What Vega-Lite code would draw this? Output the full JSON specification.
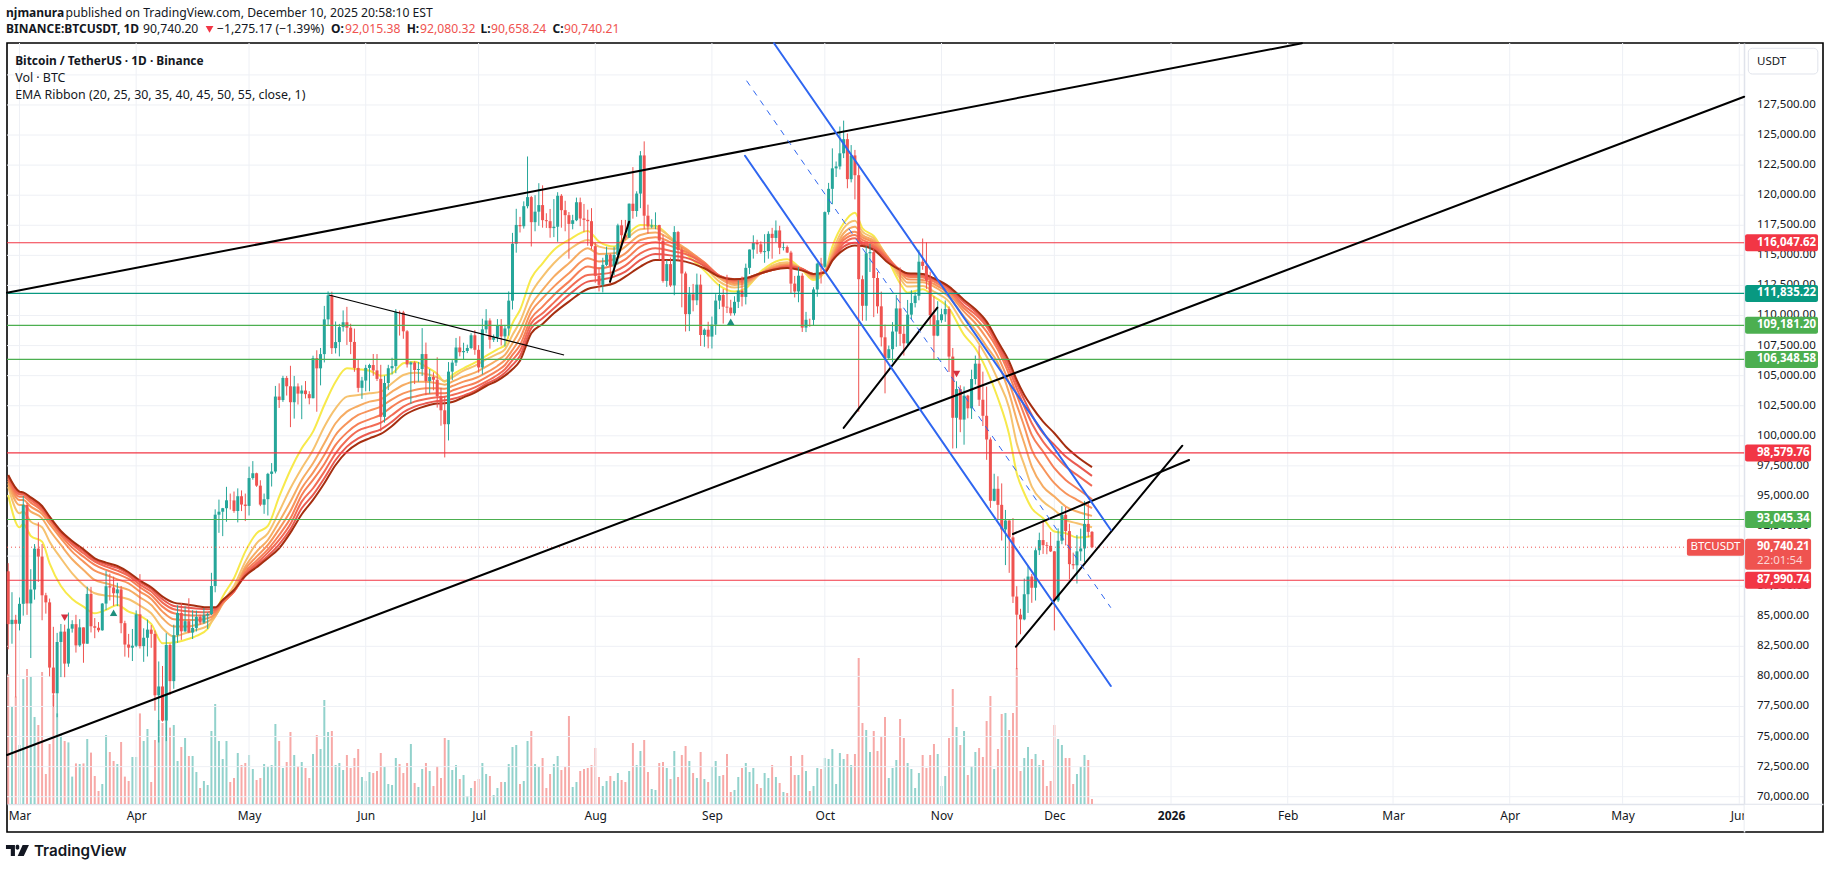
{"$schema":"https://vega.github.io/schema/vega-lite/v6.json","width":1816,"height":789,"autosize":"none","padding":{"left":7,"top":43,"right":6,"bottom":37},"background":"white","config":{"view":{"stroke":"#000000","strokeWidth":1.6},"scale":{"continuousPadding":0},"font":"Noto Sans","axis":{"title":null,"grid":false,"ticks":false,"tickSize":0,"labelColor":"#131722","labelFont":"Noto Sans","labelFontSize":12,"domainColor":"#e0e3eb","domainWidth":1.5},"text":{"font":"Noto Sans","color":"#131722"}},"resolve":{"scale":{"y":"independent"}},"datasets":{"one":[{"ref":1}],"candles":[
{"date":"2025-02-26T00:00","open":88736,"high":89414,"low":82256,"close":84347,"volume":64.8},
{"date":"2025-02-27T00:00","open":84347,"high":87000,"low":82716,"close":84704,"volume":48.7},
{"date":"2025-02-28T00:00","open":84704,"high":85120,"low":78258,"close":84373,"volume":53.7},
{"date":"2025-03-01T00:00","open":84373,"high":86560,"low":83824,"close":86031,"volume":29.5},
{"date":"2025-03-02T00:00","open":86031,"high":95000,"low":85050,"close":94248,"volume":62.5},
{"date":"2025-03-03T00:00","open":94248,"high":94416,"low":85117,"close":86065,"volume":67.5},
{"date":"2025-03-04T00:00","open":86065,"high":88911,"low":81529,"close":87222,"volume":63.5},
{"date":"2025-03-05T00:00","open":87222,"high":90998,"low":86379,"close":90623,"volume":43.5},
{"date":"2025-03-06T00:00","open":90623,"high":92810,"low":87852,"close":89961,"volume":39.5},
{"date":"2025-03-07T00:00","open":89961,"high":91000,"low":84667,"close":86742,"volume":66},
{"date":"2025-03-08T00:00","open":86742,"high":86947,"low":85218,"close":86154,"volume":15},
{"date":"2025-03-09T00:00","open":86154,"high":86471,"low":80000,"close":80734,"volume":30},
{"date":"2025-03-10T00:00","open":80734,"high":84123,"low":77459,"close":78600,"volume":54.5},
{"date":"2025-03-11T00:00","open":78600,"high":83617,"low":76606,"close":82862,"volume":45.3},
{"date":"2025-03-12T00:00","open":82862,"high":84358,"low":79939,"close":83722,"volume":34.5},
{"date":"2025-03-13T00:00","open":83722,"high":84300,"low":79931,"close":81066,"volume":31.5},
{"date":"2025-03-14T00:00","open":81066,"high":85309,"low":80797,"close":83969,"volume":30.8},
{"date":"2025-03-15T00:00","open":83969,"high":84672,"low":83639,"close":84343,"volume":13.7},
{"date":"2025-03-16T00:00","open":84343,"high":85117,"low":81981,"close":82579,"volume":20.3},
{"date":"2025-03-17T00:00","open":82579,"high":84756,"low":82456,"close":84075,"volume":20},
{"date":"2025-03-18T00:00","open":84075,"high":84075,"low":81134,"close":82718,"volume":20.3},
{"date":"2025-03-19T00:00","open":82718,"high":87453,"low":82715,"close":86854,"volume":32.5},
{"date":"2025-03-20T00:00","open":86854,"high":87443,"low":83655,"close":84167,"volume":25.7},
{"date":"2025-03-21T00:00","open":84167,"high":84850,"low":83175,"close":84043,"volume":14},
{"date":"2025-03-22T00:00","open":84043,"high":84513,"low":83674,"close":83832,"volume":6.5},
{"date":"2025-03-23T00:00","open":83832,"high":86094,"low":83794,"close":86054,"volume":10},
{"date":"2025-03-24T00:00","open":86054,"high":88765,"low":85519,"close":87498,"volume":34.5},
{"date":"2025-03-25T00:00","open":87498,"high":88542,"low":86310,"close":87392,"volume":26},
{"date":"2025-03-26T00:00","open":87392,"high":88292,"low":85861,"close":86909,"volume":21.5},
{"date":"2025-03-27T00:00","open":86909,"high":87786,"low":85837,"close":87232,"volume":20},
{"date":"2025-03-28T00:00","open":87232,"high":87515,"low":83585,"close":84424,"volume":31},
{"date":"2025-03-29T00:00","open":84424,"high":84624,"low":81644,"close":82648,"volume":13.7},
{"date":"2025-03-30T00:00","open":82648,"high":83534,"low":81565,"close":82390,"volume":11.5},
{"date":"2025-03-31T00:00","open":82390,"high":83943,"low":81278,"close":82550,"volume":23.5},
{"date":"2025-04-01T00:00","open":82550,"high":85487,"low":82432,"close":85159,"volume":23.5},
{"date":"2025-04-02T00:00","open":85159,"high":88500,"low":82320,"close":82516,"volume":45.3},
{"date":"2025-04-03T00:00","open":82516,"high":83998,"low":81211,"close":83213,"volume":31.5},
{"date":"2025-04-04T00:00","open":83213,"high":84720,"low":81659,"close":83889,"volume":37.5},
{"date":"2025-04-05T00:00","open":83889,"high":84266,"low":82379,"close":83538,"volume":11},
{"date":"2025-04-06T00:00","open":83538,"high":83816,"low":77153,"close":78430,"volume":32},
{"date":"2025-04-07T00:00","open":78430,"high":81243,"low":74508,"close":79164,"volume":42},
{"date":"2025-04-08T00:00","open":79164,"high":80867,"low":76239,"close":76322,"volume":40.5},
{"date":"2025-04-09T00:00","open":76322,"high":83588,"low":74620,"close":82615,"volume":41.5},
{"date":"2025-04-10T00:00","open":82615,"high":82753,"low":78464,"close":79607,"volume":38.2},
{"date":"2025-04-11T00:00","open":79607,"high":84300,"low":78969,"close":83423,"volume":39.5},
{"date":"2025-04-12T00:00","open":83423,"high":85905,"low":82792,"close":85276,"volume":21.5},
{"date":"2025-04-13T00:00","open":85276,"high":86100,"low":83034,"close":83748,"volume":28.5},
{"date":"2025-04-14T00:00","open":83748,"high":85799,"low":83678,"close":84591,"volume":33},
{"date":"2025-04-15T00:00","open":84591,"high":86496,"low":83600,"close":83643,"volume":24},
{"date":"2025-04-16T00:00","open":83643,"high":85500,"low":83111,"close":84030,"volume":24},
{"date":"2025-04-17T00:00","open":84030,"high":85470,"low":83736,"close":84947,"volume":16},
{"date":"2025-04-18T00:00","open":84947,"high":85132,"low":84303,"close":84474,"volume":8},
{"date":"2025-04-19T00:00","open":84474,"high":85677,"low":84364,"close":85077,"volume":11.5},
{"date":"2025-04-20T00:00","open":85077,"high":85320,"low":83949,"close":85179,"volume":9.5},
{"date":"2025-04-21T00:00","open":85179,"high":88612,"low":85092,"close":87516,"volume":36.5},
{"date":"2025-04-22T00:00","open":87516,"high":93888,"low":86992,"close":93442,"volume":50},
{"date":"2025-04-23T00:00","open":93442,"high":94696,"low":91935,"close":93691,"volume":31.5},
{"date":"2025-04-24T00:00","open":93691,"high":94005,"low":91660,"close":93980,"volume":22.5},
{"date":"2025-04-25T00:00","open":93980,"high":95758,"low":92855,"close":94638,"volume":31.5},
{"date":"2025-04-26T00:00","open":94638,"high":95199,"low":93870,"close":94628,"volume":11},
{"date":"2025-04-27T00:00","open":94628,"high":95369,"low":93602,"close":93750,"volume":13},
{"date":"2025-04-28T00:00","open":93750,"high":95630,"low":92800,"close":94978,"volume":25.5},
{"date":"2025-04-29T00:00","open":94978,"high":95461,"low":93742,"close":94284,"volume":19.5},
{"date":"2025-04-30T00:00","open":94284,"high":95199,"low":92910,"close":94172,"volume":20.5},
{"date":"2025-05-01T00:00","open":94172,"high":97437,"low":93378,"close":96489,"volume":24.5},
{"date":"2025-05-02T00:00","open":96489,"high":97895,"low":96350,"close":96887,"volume":17.5},
{"date":"2025-05-03T00:00","open":96887,"high":96935,"low":95753,"close":95856,"volume":12},
{"date":"2025-05-04T00:00","open":95856,"high":96304,"low":94151,"close":94277,"volume":13},
{"date":"2025-05-05T00:00","open":94277,"high":95199,"low":93514,"close":94733,"volume":20},
{"date":"2025-05-06T00:00","open":94733,"high":96920,"low":93377,"close":96834,"volume":18.7},
{"date":"2025-05-07T00:00","open":96834,"high":97732,"low":95784,"close":97030,"volume":19.5},
{"date":"2025-05-08T00:00","open":97030,"high":104145,"low":96876,"close":103261,"volume":40},
{"date":"2025-05-09T00:00","open":103261,"high":104361,"low":102315,"close":102971,"volume":31.5},
{"date":"2025-05-10T00:00","open":102971,"high":104984,"low":102818,"close":104809,"volume":18},
{"date":"2025-05-11T00:00","open":104809,"high":104972,"low":103345,"close":104118,"volume":21},
{"date":"2025-05-12T00:00","open":104118,"high":105819,"low":100719,"close":102791,"volume":36},
{"date":"2025-05-13T00:00","open":102791,"high":104976,"low":101429,"close":104103,"volume":24.5},
{"date":"2025-05-14T00:00","open":104103,"high":104356,"low":102602,"close":103507,"volume":19},
{"date":"2025-05-15T00:00","open":103507,"high":104192,"low":101383,"close":103763,"volume":21},
{"date":"2025-05-16T00:00","open":103763,"high":104550,"low":103100,"close":103463,"volume":18},
{"date":"2025-05-17T00:00","open":103463,"high":103709,"low":102612,"close":103126,"volume":13},
{"date":"2025-05-18T00:00","open":103126,"high":106660,"low":103105,"close":106454,"volume":25},
{"date":"2025-05-19T00:00","open":106454,"high":107108,"low":102000,"close":105606,"volume":34.5},
{"date":"2025-05-20T00:00","open":105606,"high":107300,"low":104192,"close":106791,"volume":27.5},
{"date":"2025-05-21T00:00","open":106791,"high":110797,"low":106100,"close":109678,"volume":52},
{"date":"2025-05-22T00:00","open":109678,"high":112000,"low":109177,"close":111673,"volume":36},
{"date":"2025-05-23T00:00","open":111673,"high":111980,"low":106800,"close":107287,"volume":36.5},
{"date":"2025-05-24T00:00","open":107287,"high":109500,"low":106846,"close":107791,"volume":19.5},
{"date":"2025-05-25T00:00","open":107791,"high":109299,"low":106600,"close":109035,"volume":20.5},
{"date":"2025-05-26T00:00","open":109035,"high":110422,"low":108668,"close":109440,"volume":17},
{"date":"2025-05-27T00:00","open":109440,"high":110718,"low":107551,"close":108985,"volume":24.5},
{"date":"2025-05-28T00:00","open":108985,"high":109313,"low":106787,"close":107802,"volume":18},
{"date":"2025-05-29T00:00","open":107802,"high":108910,"low":105322,"close":105641,"volume":23},
{"date":"2025-05-30T00:00","open":105641,"high":106313,"low":103621,"close":103985,"volume":27.5},
{"date":"2025-05-31T00:00","open":103985,"high":104900,"low":103068,"close":104592,"volume":13.5},
{"date":"2025-06-01T00:00","open":104592,"high":105900,"low":103700,"close":105642,"volume":11.5},
{"date":"2025-06-02T00:00","open":105642,"high":105990,"low":103700,"close":105882,"volume":16},
{"date":"2025-06-03T00:00","open":105882,"high":106800,"low":104990,"close":105434,"volume":15.5},
{"date":"2025-06-04T00:00","open":105434,"high":106794,"low":104550,"close":104731,"volume":16.5},
{"date":"2025-06-05T00:00","open":104731,"high":105900,"low":100372,"close":101575,"volume":25.5},
{"date":"2025-06-06T00:00","open":101575,"high":105000,"low":101095,"close":104390,"volume":18.5},
{"date":"2025-06-07T00:00","open":104390,"high":105900,"low":103800,"close":105615,"volume":10},
{"date":"2025-06-08T00:00","open":105615,"high":106488,"low":105100,"close":105793,"volume":9.5},
{"date":"2025-06-09T00:00","open":105793,"high":110530,"low":105200,"close":110295,"volume":23},
{"date":"2025-06-10T00:00","open":110295,"high":110400,"low":108331,"close":110257,"volume":20},
{"date":"2025-06-11T00:00","open":110257,"high":110392,"low":108064,"close":108686,"volume":15.5},
{"date":"2025-06-12T00:00","open":108686,"high":108784,"low":105671,"close":105929,"volume":20.5},
{"date":"2025-06-13T00:00","open":105929,"high":106182,"low":102664,"close":106091,"volume":30},
{"date":"2025-06-14T00:00","open":106091,"high":106200,"low":104300,"close":105472,"volume":10.5},
{"date":"2025-06-15T00:00","open":105472,"high":106128,"low":104494,"close":105552,"volume":8.5},
{"date":"2025-06-16T00:00","open":105552,"high":108952,"low":104980,"close":106794,"volume":17.5},
{"date":"2025-06-17T00:00","open":106794,"high":107750,"low":103371,"close":104551,"volume":20.5},
{"date":"2025-06-18T00:00","open":104551,"high":105550,"low":103500,"close":104886,"volume":16.5},
{"date":"2025-06-19T00:00","open":104886,"high":105280,"low":103780,"close":104658,"volume":9},
{"date":"2025-06-20T00:00","open":104658,"high":106524,"low":102345,"close":103297,"volume":19},
{"date":"2025-06-21T00:00","open":103297,"high":103982,"low":100837,"close":102120,"volume":13},
{"date":"2025-06-22T00:00","open":102120,"high":103300,"low":98200,"close":100963,"volume":33},
{"date":"2025-06-23T00:00","open":100963,"high":106128,"low":99613,"close":105334,"volume":32},
{"date":"2025-06-24T00:00","open":105334,"high":106290,"low":104622,"close":106083,"volume":17},
{"date":"2025-06-25T00:00","open":106083,"high":108135,"low":105802,"close":107340,"volume":19.5},
{"date":"2025-06-26T00:00","open":107340,"high":108272,"low":106600,"close":106947,"volume":12.5},
{"date":"2025-06-27T00:00","open":106947,"high":107735,"low":106356,"close":107047,"volume":14.5},
{"date":"2025-06-28T00:00","open":107047,"high":107577,"low":106875,"close":107296,"volume":4},
{"date":"2025-06-29T00:00","open":107296,"high":108528,"low":107200,"close":108356,"volume":8},
{"date":"2025-06-30T00:00","open":108356,"high":108789,"low":106733,"close":107146,"volume":11.5},
{"date":"2025-07-01T00:00","open":107146,"high":107540,"low":105250,"close":105681,"volume":12.5},
{"date":"2025-07-02T00:00","open":105681,"high":109730,"low":105100,"close":108849,"volume":20.5},
{"date":"2025-07-03T00:00","open":108849,"high":110529,"low":108530,"close":109584,"volume":15},
{"date":"2025-07-04T00:00","open":109584,"high":109767,"low":107245,"close":107984,"volume":14},
{"date":"2025-07-05T00:00","open":107984,"high":108420,"low":107800,"close":108198,"volume":4.5},
{"date":"2025-07-06T00:00","open":108198,"high":109700,"low":107800,"close":109203,"volume":8},
{"date":"2025-07-07T00:00","open":109203,"high":109700,"low":107513,"close":108262,"volume":11},
{"date":"2025-07-08T00:00","open":108262,"high":109216,"low":107429,"close":108922,"volume":11},
{"date":"2025-07-09T00:00","open":108922,"high":111999,"low":108324,"close":111233,"volume":20},
{"date":"2025-07-10T00:00","open":111233,"high":116868,"low":110500,"close":115968,"volume":28.5},
{"date":"2025-07-11T00:00","open":115968,"high":118869,"low":115222,"close":117527,"volume":29.5},
{"date":"2025-07-12T00:00","open":117527,"high":118200,"low":116900,"close":117420,"volume":10},
{"date":"2025-07-13T00:00","open":117420,"high":119488,"low":117224,"close":119086,"volume":11.5},
{"date":"2025-07-14T00:00","open":119086,"high":123218,"low":118905,"close":119841,"volume":31.5},
{"date":"2025-07-15T00:00","open":119841,"high":119940,"low":115736,"close":117758,"volume":36.5},
{"date":"2025-07-16T00:00","open":117758,"high":120000,"low":117000,"close":118630,"volume":20},
{"date":"2025-07-17T00:00","open":118630,"high":120998,"low":117453,"close":119177,"volume":18.5},
{"date":"2025-07-18T00:00","open":119177,"high":120820,"low":117300,"close":117924,"volume":23},
{"date":"2025-07-19T00:00","open":117924,"high":118499,"low":117277,"close":117840,"volume":8},
{"date":"2025-07-20T00:00","open":117840,"high":118856,"low":116467,"close":117265,"volume":15},
{"date":"2025-07-21T00:00","open":117265,"high":119676,"low":116515,"close":117380,"volume":20},
{"date":"2025-07-22T00:00","open":117380,"high":120247,"low":116128,"close":119954,"volume":24},
{"date":"2025-07-23T00:00","open":119954,"high":120090,"low":117301,"close":118755,"volume":17},
{"date":"2025-07-24T00:00","open":118755,"high":119535,"low":117000,"close":118340,"volume":18.5},
{"date":"2025-07-25T00:00","open":118340,"high":118600,"low":114723,"close":117614,"volume":44},
{"date":"2025-07-26T00:00","open":117614,"high":118372,"low":117163,"close":117919,"volume":8.5},
{"date":"2025-07-27T00:00","open":117919,"high":119800,"low":117840,"close":119415,"volume":11},
{"date":"2025-07-28T00:00","open":119415,"high":119800,"low":117427,"close":118062,"volume":16.5},
{"date":"2025-07-29T00:00","open":118062,"high":119273,"low":116950,"close":117950,"volume":17.5},
{"date":"2025-07-30T00:00","open":117950,"high":118792,"low":115800,"close":117840,"volume":18},
{"date":"2025-07-31T00:00","open":117840,"high":118922,"low":115500,"close":115764,"volume":19.5},
{"date":"2025-08-01T00:00","open":115764,"high":116052,"low":112722,"close":113297,"volume":28},
{"date":"2025-08-02T00:00","open":113297,"high":114000,"low":112000,"close":112546,"volume":13.5},
{"date":"2025-08-03T00:00","open":112546,"high":114800,"low":111920,"close":114208,"volume":9},
{"date":"2025-08-04T00:00","open":114208,"high":115720,"low":114103,"close":115055,"volume":11.5},
{"date":"2025-08-05T00:00","open":115055,"high":115127,"low":112650,"close":114108,"volume":14},
{"date":"2025-08-06T00:00","open":114108,"high":115716,"low":113360,"close":115028,"volume":11.5},
{"date":"2025-08-07T00:00","open":115028,"high":117630,"low":114259,"close":117496,"volume":15.5},
{"date":"2025-08-08T00:00","open":117496,"high":117944,"low":115878,"close":116674,"volume":12},
{"date":"2025-08-09T00:00","open":116674,"high":117944,"low":116299,"close":116462,"volume":11},
{"date":"2025-08-10T00:00","open":116462,"high":119311,"low":116460,"close":119294,"volume":16.5},
{"date":"2025-08-11T00:00","open":119294,"high":122335,"low":118050,"close":118686,"volume":30.5},
{"date":"2025-08-12T00:00","open":118686,"high":120324,"low":118207,"close":120134,"volume":19.5},
{"date":"2025-08-13T00:00","open":120134,"high":123667,"low":118920,"close":123306,"volume":26.5},
{"date":"2025-08-14T00:00","open":123306,"high":124474,"low":117180,"close":118295,"volume":32},
{"date":"2025-08-15T00:00","open":118295,"high":119216,"low":116803,"close":117398,"volume":16},
{"date":"2025-08-16T00:00","open":117398,"high":117999,"low":117248,"close":117491,"volume":7.5},
{"date":"2025-08-17T00:00","open":117491,"high":118575,"low":117172,"close":117520,"volume":7},
{"date":"2025-08-18T00:00","open":117520,"high":117543,"low":114640,"close":116227,"volume":20.5},
{"date":"2025-08-19T00:00","open":116227,"high":116725,"low":112732,"close":112872,"volume":21},
{"date":"2025-08-20T00:00","open":112872,"high":114615,"low":112380,"close":114271,"volume":18},
{"date":"2025-08-21T00:00","open":114271,"high":114821,"low":112380,"close":112500,"volume":12.5},
{"date":"2025-08-22T00:00","open":112500,"high":117429,"low":111684,"close":116936,"volume":26.5},
{"date":"2025-08-23T00:00","open":116936,"high":117030,"low":114560,"close":115438,"volume":13.5},
{"date":"2025-08-24T00:00","open":115438,"high":115666,"low":110680,"close":113493,"volume":24.5},
{"date":"2025-08-25T00:00","open":113493,"high":113650,"low":108666,"close":110111,"volume":29},
{"date":"2025-08-26T00:00","open":110111,"high":112371,"low":108700,"close":111763,"volume":21.5},
{"date":"2025-08-27T00:00","open":111763,"high":112625,"low":110345,"close":111262,"volume":15.5},
{"date":"2025-08-28T00:00","open":111262,"high":113485,"low":110862,"close":112566,"volume":13},
{"date":"2025-08-29T00:00","open":112566,"high":113400,"low":107463,"close":108377,"volume":26},
{"date":"2025-08-30T00:00","open":108377,"high":108926,"low":107400,"close":108817,"volume":12.5},
{"date":"2025-08-31T00:00","open":108817,"high":109480,"low":107271,"close":108246,"volume":11},
{"date":"2025-09-01T00:00","open":108246,"high":109912,"low":107255,"close":109237,"volume":18.5},
{"date":"2025-09-02T00:00","open":109237,"high":111771,"low":108393,"close":111240,"volume":21.5},
{"date":"2025-09-03T00:00","open":111240,"high":112616,"low":110528,"close":111705,"volume":14},
{"date":"2025-09-04T00:00","open":111705,"high":112206,"low":109329,"close":110730,"volume":14.5},
{"date":"2025-09-05T00:00","open":110730,"high":113384,"low":110206,"close":110659,"volume":25},
{"date":"2025-09-06T00:00","open":110659,"high":111307,"low":109977,"close":110187,"volume":6},
{"date":"2025-09-07T00:00","open":110187,"high":111600,"low":110000,"close":111137,"volume":7},
{"date":"2025-09-08T00:00","open":111137,"high":112924,"low":110621,"close":112065,"volume":13.5},
{"date":"2025-09-09T00:00","open":112065,"high":113232,"low":110757,"close":111546,"volume":18},
{"date":"2025-09-10T00:00","open":111546,"high":114313,"low":110917,"close":113960,"volume":20.5},
{"date":"2025-09-11T00:00","open":113960,"high":115488,"low":113444,"close":115482,"volume":16},
{"date":"2025-09-12T00:00","open":115482,"high":116665,"low":114728,"close":116029,"volume":18},
{"date":"2025-09-13T00:00","open":116029,"high":116298,"low":115127,"close":115918,"volume":10},
{"date":"2025-09-14T00:00","open":115918,"high":116165,"low":115135,"close":115268,"volume":8},
{"date":"2025-09-15T00:00","open":115268,"high":116757,"low":114384,"close":115349,"volume":15.5},
{"date":"2025-09-16T00:00","open":115349,"high":117000,"low":114720,"close":116788,"volume":13},
{"date":"2025-09-17T00:00","open":116788,"high":117286,"low":114720,"close":116447,"volume":19.5},
{"date":"2025-09-18T00:00","open":116447,"high":117900,"low":116092,"close":117073,"volume":13.5},
{"date":"2025-09-19T00:00","open":117073,"high":117459,"low":115100,"close":115632,"volume":10.5},
{"date":"2025-09-20T00:00","open":115632,"high":116121,"low":115408,"close":115685,"volume":6},
{"date":"2025-09-21T00:00","open":115685,"high":115819,"low":115188,"close":115232,"volume":5.5},
{"date":"2025-09-22T00:00","open":115232,"high":115379,"low":111800,"close":112650,"volume":24},
{"date":"2025-09-23T00:00","open":112650,"high":113290,"low":111500,"close":111998,"volume":14.5},
{"date":"2025-09-24T00:00","open":111998,"high":114019,"low":111100,"close":113307,"volume":14.5},
{"date":"2025-09-25T00:00","open":113307,"high":113510,"low":108631,"close":108994,"volume":24.5},
{"date":"2025-09-26T00:00","open":108994,"high":110300,"low":108620,"close":109643,"volume":16.5},
{"date":"2025-09-27T00:00","open":109643,"high":109743,"low":109064,"close":109635,"volume":6.5},
{"date":"2025-09-28T00:00","open":109635,"high":112350,"low":109189,"close":112163,"volume":9},
{"date":"2025-09-29T00:00","open":112163,"high":114400,"low":111560,"close":114311,"volume":18},
{"date":"2025-09-30T00:00","open":114311,"high":114792,"low":112656,"close":114048,"volume":17.5},
{"date":"2025-10-01T00:00","open":114048,"high":118649,"low":113966,"close":118594,"volume":23},
{"date":"2025-10-02T00:00","open":118594,"high":121022,"low":118383,"close":120529,"volume":22.5},
{"date":"2025-10-03T00:00","open":120529,"high":123894,"low":119248,"close":122232,"volume":27.5},
{"date":"2025-10-04T00:00","open":122232,"high":122800,"low":121510,"close":122391,"volume":10},
{"date":"2025-10-05T00:00","open":122391,"high":125708,"low":122136,"close":123482,"volume":25.5},
{"date":"2025-10-06T00:00","open":123482,"high":126199,"low":123084,"close":124658,"volume":22.5},
{"date":"2025-10-07T00:00","open":124658,"high":125126,"low":120574,"close":121332,"volume":25},
{"date":"2025-10-08T00:00","open":121332,"high":124167,"low":121066,"close":123306,"volume":19.5},
{"date":"2025-10-09T00:00","open":123306,"high":123762,"low":119651,"close":121662,"volume":25},
{"date":"2025-10-10T00:00","open":121662,"high":122550,"low":102000,"close":113017,"volume":73},
{"date":"2025-10-11T00:00","open":113017,"high":113322,"low":109561,"close":110807,"volume":40.5},
{"date":"2025-10-12T00:00","open":110807,"high":115770,"low":109565,"close":115169,"volume":37},
{"date":"2025-10-13T00:00","open":115169,"high":115964,"low":113616,"close":115271,"volume":26},
{"date":"2025-10-14T00:00","open":115271,"high":115530,"low":109865,"close":113118,"volume":36.5},
{"date":"2025-10-15T00:00","open":113118,"high":113612,"low":110164,"close":110763,"volume":26.5},
{"date":"2025-10-16T00:00","open":110763,"high":111982,"low":107427,"close":108186,"volume":34},
{"date":"2025-10-17T00:00","open":108186,"high":109240,"low":103528,"close":106467,"volume":43.5},
{"date":"2025-10-18T00:00","open":106467,"high":107499,"low":106322,"close":107198,"volume":13},
{"date":"2025-10-19T00:00","open":107198,"high":109450,"low":106103,"close":108666,"volume":18},
{"date":"2025-10-20T00:00","open":108666,"high":111705,"low":107402,"close":110588,"volume":22},
{"date":"2025-10-21T00:00","open":110588,"high":114000,"low":107473,"close":108476,"volume":42.5},
{"date":"2025-10-22T00:00","open":108476,"high":109198,"low":106666,"close":107689,"volume":33},
{"date":"2025-10-23T00:00","open":107689,"high":111293,"low":107491,"close":110069,"volume":20.5},
{"date":"2025-10-24T00:00","open":110069,"high":112100,"low":109700,"close":111033,"volume":17.5},
{"date":"2025-10-25T00:00","open":111033,"high":111943,"low":110672,"close":111641,"volume":8},
{"date":"2025-10-26T00:00","open":111641,"high":115466,"low":111260,"close":114472,"volume":15.5},
{"date":"2025-10-27T00:00","open":114472,"high":116400,"low":113800,"close":114119,"volume":24.5},
{"date":"2025-10-28T00:00","open":114119,"high":116086,"low":112211,"close":112898,"volume":18},
{"date":"2025-10-29T00:00","open":112898,"high":113643,"low":109200,"close":110021,"volume":24.5},
{"date":"2025-10-30T00:00","open":110021,"high":111592,"low":106304,"close":108322,"volume":30},
{"date":"2025-10-31T00:00","open":108322,"high":111190,"low":108275,"close":109608,"volume":25},
{"date":"2025-11-01T00:00","open":109608,"high":110564,"low":109394,"close":110098,"volume":9},
{"date":"2025-11-02T00:00","open":110098,"high":111250,"low":109471,"close":110540,"volume":14},
{"date":"2025-11-03T00:00","open":110540,"high":110750,"low":105306,"close":106583,"volume":33},
{"date":"2025-11-04T00:00","open":106583,"high":107299,"low":98944,"close":101497,"volume":57.5},
{"date":"2025-11-05T00:00","open":101497,"high":104534,"low":98966,"close":103885,"volume":38.5},
{"date":"2025-11-06T00:00","open":103885,"high":104200,"low":100300,"close":101346,"volume":29.5},
{"date":"2025-11-07T00:00","open":101346,"high":104096,"low":99260,"close":103339,"volume":36.5},
{"date":"2025-11-08T00:00","open":103339,"high":103406,"low":101454,"close":102282,"volume":14.5},
{"date":"2025-11-09T00:00","open":102282,"high":105495,"low":101400,"close":104719,"volume":19},
{"date":"2025-11-10T00:00","open":104719,"high":106670,"low":104265,"close":105996,"volume":26},
{"date":"2025-11-11T00:00","open":105996,"high":107500,"low":102476,"close":102997,"volume":28},
{"date":"2025-11-12T00:00","open":102997,"high":105333,"low":100813,"close":101663,"volume":23.5},
{"date":"2025-11-13T00:00","open":101663,"high":104085,"low":98000,"close":99692,"volume":41.5},
{"date":"2025-11-14T00:00","open":99692,"high":99866,"low":94012,"close":94594,"volume":54},
{"date":"2025-11-15T00:00","open":94594,"high":96846,"low":94558,"close":95596,"volume":17.5},
{"date":"2025-11-16T00:00","open":95596,"high":96635,"low":93005,"close":94261,"volume":27.5},
{"date":"2025-11-17T00:00","open":94261,"high":96043,"low":91292,"close":92215,"volume":45},
{"date":"2025-11-18T00:00","open":92215,"high":93836,"low":89253,"close":92960,"volume":45.5},
{"date":"2025-11-19T00:00","open":92960,"high":92980,"low":88608,"close":91554,"volume":37},
{"date":"2025-11-20T00:00","open":91554,"high":93160,"low":86100,"close":86637,"volume":45.5},
{"date":"2025-11-21T00:00","open":86637,"high":87498,"low":80600,"close":85129,"volume":68},
{"date":"2025-11-22T00:00","open":85129,"high":85620,"low":83500,"close":84739,"volume":16.5},
{"date":"2025-11-23T00:00","open":84739,"high":88127,"low":84667,"close":86830,"volume":23},
{"date":"2025-11-24T00:00","open":86830,"high":89228,"low":85272,"close":88300,"volume":28.5},
{"date":"2025-11-25T00:00","open":88300,"high":88519,"low":86116,"close":87369,"volume":22.5},
{"date":"2025-11-26T00:00","open":87369,"high":90656,"low":86306,"close":90485,"volume":25},
{"date":"2025-11-27T00:00","open":90485,"high":91950,"low":90089,"close":91333,"volume":19.5},
{"date":"2025-11-28T00:00","open":91333,"high":93092,"low":90180,"close":90910,"volume":22},
{"date":"2025-11-29T00:00","open":90910,"high":91165,"low":90155,"close":90851,"volume":9},
{"date":"2025-11-30T00:00","open":90851,"high":92000,"low":90336,"close":90394,"volume":11.5},
{"date":"2025-12-01T00:00","open":90394,"high":90417,"low":83822,"close":86321,"volume":39.5},
{"date":"2025-12-02T00:00","open":86321,"high":92307,"low":86184,"close":91277,"volume":32.5},
{"date":"2025-12-03T00:00","open":91277,"high":94150,"low":90990,"close":93429,"volume":29.5},
{"date":"2025-12-04T00:00","open":93429,"high":94080,"low":90889,"close":92078,"volume":23},
{"date":"2025-12-05T00:00","open":92078,"high":92692,"low":88056,"close":89330,"volume":23},
{"date":"2025-12-06T00:00","open":89330,"high":90289,"low":88908,"close":89236,"volume":10},
{"date":"2025-12-07T00:00","open":89236,"high":91760,"low":87719,"close":90395,"volume":15},
{"date":"2025-12-08T00:00","open":90395,"high":92287,"low":89612,"close":90634,"volume":18.5},
{"date":"2025-12-09T00:00","open":90634,"high":94588,"low":89500,"close":92678,"volume":24.5},
{"date":"2025-12-10T00:00","open":92678,"high":94476,"low":91563,"close":92015,"volume":22},
{"date":"2025-12-11T00:00","open":92015,"high":92080,"low":90658,"close":90740,"volume":2.5}
],"ribbon":[
{"date":"2025-02-26T00:00","e20":95080,"e25":95770,"e30":96050,"e35":96270,"e40":96440,"e45":96550,"e50":96660,"e55":96740},
{"date":"2025-03-01T00:00","e20":92390,"e25":93560,"e30":94250,"e35":94665,"e40":94940,"e45":95135,"e50":95275,"e55":95360},
{"date":"2025-03-02T00:00","e20":92670,"e25":93695,"e30":94250,"e35":94665,"e40":94940,"e45":95110,"e50":95220,"e55":95300},
{"date":"2025-03-04T00:00","e20":91675,"e25":92865,"e30":93695,"e35":94110,"e40":94445,"e45":94665,"e50":94805,"e55":94885},
{"date":"2025-03-07T00:00","e20":91200,"e25":92395,"e30":93140,"e35":93500,"e40":93750,"e45":93915,"e50":94055,"e55":94165},
{"date":"2025-03-09T00:00","e20":89400,"e25":91200,"e30":92170,"e35":92670,"e40":92950,"e45":93115,"e50":93195,"e55":93280},
{"date":"2025-03-12T00:00","e20":87520,"e25":89820,"e30":90925,"e35":91480,"e40":91730,"e45":91895,"e50":92005,"e55":92090},
{"date":"2025-03-15T00:00","e20":86440,"e25":88570,"e30":89735,"e35":90370,"e40":90705,"e45":90955,"e50":91120,"e55":91260},
{"date":"2025-03-18T00:00","e20":85800,"e25":87600,"e30":88850,"e35":89540,"e40":89955,"e45":90235,"e50":90425,"e55":90565},
{"date":"2025-03-21T00:00","e20":85245,"e25":86910,"e30":88015,"e35":88790,"e40":89265,"e45":89540,"e50":89680,"e55":89820},
{"date":"2025-03-24T00:00","e20":85525,"e25":86715,"e30":87740,"e35":88430,"e40":88850,"e45":89125,"e50":89320,"e55":89455},
{"date":"2025-03-27T00:00","e20":85940,"e25":86630,"e30":87465,"e35":88070,"e40":88515,"e45":88795,"e50":89015,"e55":89180},
{"date":"2025-03-30T00:00","e20":85385,"e25":86410,"e30":87185,"e35":87740,"e40":88100,"e45":88350,"e50":88515,"e55":88655},
{"date":"2025-04-02T00:00","e20":85055,"e25":85885,"e30":86575,"e35":87050,"e40":87410,"e45":87630,"e50":87825,"e55":87960},
{"date":"2025-04-05T00:00","e20":84360,"e25":85245,"e30":85940,"e35":86440,"e40":86770,"e45":87050,"e50":87270,"e55":87410},
{"date":"2025-04-08T00:00","e20":82755,"e25":84000,"e30":84830,"e35":85385,"e40":85800,"e45":86135,"e50":86410,"e55":86630},
{"date":"2025-04-11T00:00","e20":82810,"e25":83310,"e30":84140,"e35":84750,"e40":85245,"e45":85580,"e50":85855,"e55":86135},
{"date":"2025-04-14T00:00","e20":83030,"e25":83585,"e30":84140,"e35":84695,"e40":85110,"e45":85440,"e50":85745,"e55":86000},
{"date":"2025-04-17T00:00","e20":83365,"e25":83860,"e30":84280,"e35":84695,"e40":85055,"e45":85360,"e50":85635,"e55":85855},
{"date":"2025-04-20T00:00","e20":83945,"e25":84195,"e30":84555,"e35":84830,"e40":85110,"e45":85330,"e50":85580,"e55":85745},
{"date":"2025-04-22T00:00","e20":85245,"e25":84970,"e30":85025,"e35":85190,"e40":85385,"e45":85525,"e50":85635,"e55":85745},
{"date":"2025-04-24T00:00","e20":86630,"e25":86135,"e30":86020,"e35":86080,"e40":86135,"e45":86215,"e50":86300,"e55":86355},
{"date":"2025-04-27T00:00","e20":88155,"e25":87520,"e30":87185,"e35":87075,"e40":87050,"e45":87050,"e50":87100,"e55":87185},
{"date":"2025-04-30T00:00","e20":90370,"e25":89540,"e30":89125,"e35":88905,"e40":88680,"e45":88515,"e50":88405,"e55":88350},
{"date":"2025-05-03T00:00","e20":91895,"e25":91065,"e30":90370,"e35":89955,"e40":89625,"e45":89400,"e50":89210,"e55":89070},
{"date":"2025-05-06T00:00","e20":92505,"e25":91895,"e30":91340,"e35":90925,"e40":90565,"e45":90290,"e50":90010,"e55":89820},
{"date":"2025-05-09T00:00","e20":94940,"e25":93695,"e30":92865,"e35":92255,"e40":91755,"e45":91340,"e50":90980,"e55":90650},
{"date":"2025-05-12T00:00","e20":97160,"e25":95635,"e30":94525,"e35":93750,"e40":93140,"e45":92670,"e50":92255,"e55":91950},
{"date":"2025-05-15T00:00","e20":98960,"e25":97300,"e30":96330,"e35":95640,"e40":95085,"e45":94530,"e50":93975,"e55":93480},
{"date":"2025-05-18T00:00","e20":100345,"e25":98825,"e30":97715,"e35":96940,"e40":96330,"e45":95640,"e50":95085,"e55":94670},
{"date":"2025-05-21T00:00","e20":102560,"e25":100760,"e30":99375,"e35":98405,"e40":97660,"e45":97020,"e50":96470,"e55":96055},
{"date":"2025-05-24T00:00","e20":104500,"e25":102285,"e30":101040,"e35":100070,"e40":99240,"e45":98545,"e50":97990,"e55":97575},
{"date":"2025-05-27T00:00","e20":105610,"e25":103255,"e30":102010,"e35":101040,"e40":100265,"e45":99655,"e50":99100,"e55":98685},
{"date":"2025-05-30T00:00","e20":105525,"e25":103395,"e30":102480,"e35":101730,"e40":100985,"e45":100430,"e50":99790,"e55":99375},
{"date":"2025-06-02T00:00","e20":105415,"e25":103530,"e30":102840,"e35":102090,"e40":101370,"e45":100760,"e50":100210,"e55":99790},
{"date":"2025-06-05T00:00","e20":105000,"e25":103670,"e30":103035,"e35":102425,"e40":101730,"e45":101095,"e50":100540,"e55":100150},
{"date":"2025-06-08T00:00","e20":105195,"e25":104365,"e30":103670,"e35":103035,"e40":102425,"e45":101730,"e50":101180,"e55":100820},
{"date":"2025-06-11T00:00","e20":106025,"e25":105055,"e30":104225,"e35":103530,"e40":102980,"e45":102425,"e50":101955,"e55":101650},
{"date":"2025-06-14T00:00","e20":106165,"e25":105250,"e30":104500,"e35":103810,"e40":103255,"e45":102840,"e50":102425,"e55":102150},
{"date":"2025-06-17T00:00","e20":105750,"e25":105140,"e30":104500,"e35":103950,"e40":103475,"e45":103060,"e50":102700,"e55":102480},
{"date":"2025-06-20T00:00","e20":105140,"e25":104860,"e30":104365,"e35":103950,"e40":103530,"e45":103200,"e50":102895,"e55":102675},
{"date":"2025-06-22T00:00","e20":104500,"e25":104555,"e30":104250,"e35":103920,"e40":103530,"e45":103255,"e50":102950,"e55":102700},
{"date":"2025-06-24T00:00","e20":105055,"e25":104860,"e30":104500,"e35":104140,"e40":103755,"e45":103395,"e50":103060,"e55":102810},
{"date":"2025-06-27T00:00","e20":105610,"e25":105415,"e30":104915,"e35":104500,"e40":104085,"e45":103670,"e50":103340,"e55":103200},
{"date":"2025-06-30T00:00","e20":106080,"e25":105805,"e30":105250,"e35":104780,"e40":104365,"e45":104030,"e50":103725,"e55":103590},
{"date":"2025-07-03T00:00","e20":106635,"e25":106360,"e30":105750,"e35":105250,"e40":104860,"e45":104500,"e50":104310,"e55":104140},
{"date":"2025-07-06T00:00","e20":107190,"e25":106800,"e30":106300,"e35":105805,"e40":105415,"e45":105055,"e50":104780,"e55":104585},
{"date":"2025-07-08T00:00","e20":107550,"e25":107190,"e30":106720,"e35":106300,"e40":105890,"e45":105525,"e50":105250,"e55":105000},
{"date":"2025-07-10T00:00","e20":109350,"e25":108380,"e30":107690,"e35":107135,"e40":106720,"e45":106300,"e50":105890,"e55":105525},
{"date":"2025-07-12T00:00","e20":110460,"e25":109490,"e30":108800,"e35":108100,"e40":107550,"e45":107080,"e50":106635,"e55":106245},
{"date":"2025-07-15T00:00","e20":113095,"e25":111850,"e30":110880,"e35":110325,"e40":109770,"e45":109355,"e50":108940,"e55":108525},
{"date":"2025-07-18T00:00","e20":114340,"e25":113230,"e30":112125,"e35":111430,"e40":110740,"e45":110185,"e50":109770,"e55":109300},
{"date":"2025-07-21T00:00","e20":115450,"e25":114340,"e30":113230,"e35":112400,"e40":111710,"e45":111070,"e50":110600,"e55":110185},
{"date":"2025-07-25T00:00","e20":116280,"e25":115450,"e30":114340,"e35":113510,"e40":112815,"e45":112260,"e50":111710,"e55":111155},
{"date":"2025-07-30T00:00","e20":117025,"e25":116280,"e30":115585,"e35":114755,"e40":114065,"e45":113370,"e50":112815,"e55":112205},
{"date":"2025-08-02T00:00","e20":116140,"e25":115725,"e30":115115,"e35":114480,"e40":113925,"e45":113425,"e50":112955,"e55":112400},
{"date":"2025-08-06T00:00","e20":115725,"e25":115530,"e30":115170,"e35":114670,"e40":114200,"e45":113650,"e50":113230,"e55":112680},
{"date":"2025-08-09T00:00","e20":116555,"e25":116280,"e30":115725,"e35":115170,"e40":114670,"e45":114145,"e50":113650,"e55":113230},
{"date":"2025-08-13T00:00","e20":117525,"e25":117165,"e30":116695,"e35":116280,"e40":115725,"e45":115170,"e50":114615,"e55":114065},
{"date":"2025-08-17T00:00","e20":117440,"e25":117250,"e30":116890,"e35":116500,"e40":116085,"e45":115585,"e50":115115,"e55":114615},
{"date":"2025-08-22T00:00","e20":116140,"e25":116225,"e30":116140,"e35":115945,"e40":115670,"e45":115310,"e50":114950,"e55":114615},
{"date":"2025-08-25T00:00","e20":115170,"e25":115450,"e30":115585,"e35":115505,"e40":115310,"e45":115115,"e50":114810,"e55":114480},
{"date":"2025-08-30T00:00","e20":113730,"e25":114065,"e30":114285,"e35":114395,"e40":114395,"e45":114285,"e50":114120,"e55":113925},
{"date":"2025-09-03T00:00","e20":112485,"e25":112815,"e30":113095,"e35":113230,"e40":113285,"e45":113315,"e50":113285,"e55":113230},
{"date":"2025-09-07T00:00","e20":111985,"e25":112320,"e30":112540,"e35":112680,"e40":112815,"e45":112925,"e50":113010,"e55":113010},
{"date":"2025-09-10T00:00","e20":112260,"e25":112485,"e30":112680,"e35":112815,"e40":112925,"e45":113040,"e50":113095,"e55":113095},
{"date":"2025-09-14T00:00","e20":113650,"e25":113510,"e30":113510,"e35":113510,"e40":113510,"e45":113510,"e50":113510,"e55":113510},
{"date":"2025-09-17T00:00","e20":114340,"e25":114145,"e30":114010,"e35":113925,"e40":113870,"e45":113785,"e50":113785,"e55":113785},
{"date":"2025-09-21T00:00","e20":114670,"e25":114425,"e30":114285,"e35":114200,"e40":114120,"e45":114065,"e50":114010,"e55":113950},
{"date":"2025-09-25T00:00","e20":113785,"e25":113840,"e30":113870,"e35":113870,"e40":113870,"e45":113870,"e50":113840,"e55":113730},
{"date":"2025-09-28T00:00","e20":112955,"e25":113095,"e30":113230,"e35":113315,"e40":113370,"e45":113425,"e50":113455,"e55":113455},
{"date":"2025-10-01T00:00","e20":113650,"e25":113650,"e30":113650,"e35":113650,"e40":113650,"e45":113650,"e50":113590,"e55":113565},
{"date":"2025-10-03T00:00","e20":115725,"e25":115310,"e30":115030,"e35":114895,"e40":114755,"e45":114670,"e50":114615,"e55":114560},
{"date":"2025-10-06T00:00","e20":117665,"e25":117250,"e30":116835,"e35":116500,"e40":116280,"e45":116000,"e50":115725,"e55":115450},
{"date":"2025-10-09T00:00","e20":118550,"e25":117885,"e30":117385,"e35":116970,"e40":116695,"e45":116415,"e50":116055,"e55":115810},
{"date":"2025-10-11T00:00","e20":117250,"e25":116970,"e30":116695,"e35":116500,"e40":116280,"e45":116085,"e50":115920,"e55":115780},
{"date":"2025-10-14T00:00","e20":116610,"e25":116415,"e30":116225,"e35":116055,"e40":115865,"e45":115725,"e50":115585,"e55":115450},
{"date":"2025-10-18T00:00","e20":114480,"e25":114670,"e30":114755,"e35":114755,"e40":114670,"e45":114615,"e50":114480,"e55":114340},
{"date":"2025-10-21T00:00","e20":112680,"e25":113095,"e30":113370,"e35":113590,"e40":113730,"e45":113785,"e50":113785,"e55":113785},
{"date":"2025-10-23T00:00","e20":111900,"e25":112400,"e30":112735,"e35":113010,"e40":113230,"e45":113370,"e50":113455,"e55":113510},
{"date":"2025-10-27T00:00","e20":112180,"e25":112455,"e30":112765,"e35":112955,"e40":113150,"e45":113285,"e50":113400,"e55":113455},
{"date":"2025-10-30T00:00","e20":111570,"e25":111985,"e30":112400,"e35":112620,"e40":112815,"e45":112955,"e50":113040,"e55":113095},
{"date":"2025-11-03T00:00","e20":110600,"e25":111155,"e30":111515,"e35":111790,"e40":111985,"e45":112180,"e50":112320,"e55":112400},
{"date":"2025-11-07T00:00","e20":108385,"e25":109215,"e30":109910,"e35":110325,"e40":110600,"e45":110820,"e50":111100,"e55":111290},
{"date":"2025-11-10T00:00","e20":107275,"e25":108110,"e30":108800,"e35":109355,"e40":109770,"e45":110100,"e50":110325,"e55":110515},
{"date":"2025-11-13T00:00","e20":105475,"e25":106585,"e30":107415,"e35":108110,"e40":108660,"e45":109075,"e50":109300,"e55":109490},
{"date":"2025-11-16T00:00","e20":103120,"e25":104645,"e30":106030,"e35":106585,"e40":107140,"e45":107415,"e50":107635,"e55":107830},
{"date":"2025-11-19T00:00","e20":100075,"e25":102290,"e30":103540,"e35":104370,"e40":105060,"e45":105475,"e50":105835,"e55":106170},
{"date":"2025-11-21T00:00","e20":96890,"e25":99380,"e30":101320,"e35":102570,"e40":103400,"e45":103950,"e50":104370,"e55":104645},
{"date":"2025-11-23T00:00","e20":95225,"e25":97580,"e30":99380,"e35":100770,"e40":101735,"e45":102430,"e50":102985,"e55":103400},
{"date":"2025-11-25T00:00","e20":93980,"e25":95780,"e30":97445,"e35":98830,"e40":100075,"e45":101045,"e50":101735,"e55":102430},
{"date":"2025-11-28T00:00","e20":93150,"e25":94535,"e30":95780,"e35":97305,"e40":98690,"e45":99520,"e50":100215,"e55":101180},
{"date":"2025-12-01T00:00","e20":92040,"e25":93840,"e30":94950,"e35":96060,"e40":97305,"e45":98410,"e50":99245,"e55":100215},
{"date":"2025-12-04T00:00","e20":91905,"e25":93010,"e30":94120,"e35":95225,"e40":96335,"e45":97445,"e50":98275,"e55":99105},
{"date":"2025-12-07T00:00","e20":91540,"e25":92735,"e30":93705,"e35":94675,"e40":95640,"e45":96750,"e50":97580,"e55":98275},
{"date":"2025-12-11T00:00","e20":91680,"e25":92400,"e30":93345,"e35":93980,"e40":94730,"e45":95835,"e50":96665,"e55":97390}
],"drawings":[
{"line":"upper trend","kind":"black","date":"2025-02-25T16:16","price":111895},
{"line":"upper trend","kind":"black","date":"2026-02-04T19:00","price":132630},
{"line":"lower trend","kind":"black","date":"2025-02-25T16:16","price":73466},
{"line":"lower trend","kind":"black","date":"2026-06-02T07:00","price":128188},
{"line":"wedge low","kind":"black","date":"2025-11-20T19:00","price":82470},
{"line":"wedge low","kind":"black","date":"2026-01-04T00:00","price":99177},
{"line":"wedge high","kind":"black","date":"2025-11-20T00:00","price":91837},
{"line":"wedge high","kind":"black","date":"2026-01-05T19:00","price":97988},
{"line":"flag a","kind":"black","date":"2025-08-04T22:00","price":112810},
{"line":"flag a","kind":"black","date":"2025-08-10T00:00","price":117800},
{"line":"flag b","kind":"black","date":"2025-10-06T00:00","price":100650},
{"line":"flag b","kind":"black","date":"2025-10-30T22:00","price":110650},
{"line":"may slope","kind":"thin","date":"2025-05-22T05:00","price":111705},
{"line":"may slope","kind":"thin","date":"2025-07-23T17:00","price":106716},
{"line":"channel top","kind":"blue","date":"2025-09-17T12:00","price":132630},
{"line":"channel top","kind":"blue","date":"2025-12-16T00:00","price":92170},
{"line":"channel bottom","kind":"blue","date":"2025-09-09T19:00","price":123283},
{"line":"channel bottom","kind":"blue","date":"2025-12-16T00:00","price":79202},
{"line":"channel mid","kind":"dash","date":"2025-09-10T05:00","price":129518},
{"line":"channel mid","kind":"dash","date":"2025-12-16T00:00","price":85711}
],"levels":[
{"price":116047.62,"label":"116,047.62","zone":"resistance"},
{"price":111835.22,"label":"111,835.22","zone":"pivot"},
{"price":109181.20,"label":"109,181.20","zone":"support"},
{"price":106348.58,"label":"106,348.58","zone":"support"},
{"price":98579.76,"label":"98,579.76","zone":"resistance"},
{"price":93045.34,"label":"93,045.34","zone":"support"},
{"price":87990.74,"label":"87,990.74","zone":"resistance"}
],"last":[{"price":90740.21,"label":"90,740.21","timer":"22:01:54","symbol":"BTCUSDT"}],
"signals":[
{"date":"2025-03-13T00:00","price":84880,"side":"sell"},
{"date":"2025-03-26T00:00","price":85295,"side":"buy"},
{"date":"2025-09-06T00:00","price":109484,"side":"buy"},
{"date":"2025-11-05T00:00","price":105137,"side":"sell"}
],"gridPrices":[{"price":70000},{"price":72500},{"price":75000},{"price":77500},{"price":80000},{"price":82500},{"price":85000},{"price":87500},{"price":90000},{"price":92500},{"price":95000},{"price":97500},{"price":100000},{"price":102500},{"price":105000},{"price":107500},{"price":110000},{"price":112500},{"price":115000},{"price":117500},{"price":120000},{"price":122500},{"price":125000},{"price":127500},{"price":130000}],
"gridDates":[{"date":"2025-03-01T00:00"},{"date":"2025-04-01T00:00"},{"date":"2025-05-01T00:00"},{"date":"2025-06-01T00:00"},{"date":"2025-07-01T00:00"},{"date":"2025-08-01T00:00"},{"date":"2025-09-01T00:00"},{"date":"2025-10-01T00:00"},{"date":"2025-11-01T00:00"},{"date":"2025-12-01T00:00"},{"date":"2026-01-01T00:00"},{"date":"2026-02-01T00:00"},{"date":"2026-03-01T00:00"},{"date":"2026-04-01T00:00"},{"date":"2026-05-01T00:00"},{"date":"2026-06-01T00:00"}]
},"layer":[
{"layer":[{"data":{"name":"candles"},"mark":{"type":"bar","size":2},"encoding":{"x":{"field":"date","type":"temporal","scale":{"padding":0,"domain":[{"year":2025,"month":"feb","date":25,"hours":16,"minutes":16},{"year":2026,"month":"jun","date":23,"hours":6}]}},"y":{"field":"volume","type":"quantitative","stack":null,"scale":{"domain":[-14,380.5],"nice":false},"axis":null},"color":{"condition":{"test":"datum.close>=datum.open","value":"#92d2cc"},"value":"#f7a9a7"}}}]},
{"layer":[
{"data":{"name":"gridPrices"},"mark":{"type":"rule","color":"#eef0f5","strokeWidth":1},"encoding":{"y":{"field":"price","type":"quantitative","scale":{"domain":[67066,132651],"nice":false,"zero":false},"axis":{"orient":"right","offset":-79,"labels":false}},"x":{"datum":{"year":2025,"month":"feb","date":25,"hours":16,"minutes":16},"type":"temporal","scale":{"padding":0,"domain":[{"year":2025,"month":"feb","date":25,"hours":16,"minutes":16},{"year":2026,"month":"jun","date":23,"hours":6}]}},"x2":{"datum":{"year":2026,"month":"jun","date":2,"hours":7}}}},
{"data":{"name":"gridDates"},"mark":{"type":"rule","color":"#eef0f5","strokeWidth":1},"encoding":{"x":{"field":"date","type":"temporal","axis":{"orient":"bottom","offset":-28,"labelPadding":6,"values":["2025-03-01T00:00","2025-04-01T00:00","2025-05-01T00:00","2025-06-01T00:00","2025-07-01T00:00","2025-08-01T00:00","2025-09-01T00:00","2025-10-01T00:00","2025-11-01T00:00","2025-12-01T00:00","2026-01-01T00:00","2026-02-01T00:00","2026-03-01T00:00","2026-04-01T00:00","2026-05-01T00:00","2026-06-01T00:00"],"labelExpr":"month(datum.value)==0 ? timeFormat(datum.value,'%Y') : timeFormat(datum.value,'%b')","labelFontWeight":{"condition":{"test":"month(datum.value)==0","value":"bold"},"value":"normal"},"labelFlush":false,"labelOverlap":false,"labelBound":false}},"y":{"datum":132651},"y2":{"datum":69393}}},
{"data":{"name":"gridPrices"},"transform":[{"filter":"datum.price<=127500"}],"mark":{"type":"text","align":"left","baseline":"middle","fontSize":11.5},"encoding":{"x":{"datum":{"year":2026,"month":"jun","date":5,"hours":17},"type":"temporal"},"y":{"field":"price","type":"quantitative"},"text":{"field":"price","type":"quantitative","format":",.2f"}}},
{"data":{"name":"ribbon"},"transform":[{"fold":["e20","e25","e30","e35","e40","e45","e50","e55"],"as":["ema","price"]}],"mark":{"type":"line","interpolate":"monotone"},"encoding":{"x":{"field":"date","type":"temporal"},"y":{"field":"price","type":"quantitative"},"stroke":{"field":"ema","type":"nominal","scale":{"domain":["e20","e25","e30","e35","e40","e45","e50","e55"],"range":["#f7e94b","#f6c26f","#f6ac63","#f7945b","#f67f57","#f26b55","#ea5a50","#a52e10"]},"legend":null},"strokeWidth":{"field":"ema","type":"nominal","scale":{"domain":["e20","e25","e30","e35","e40","e45","e50","e55"],"range":[2,2,2,2,2,2,2,2.4]},"legend":null}}},
{"data":{"name":"candles"},"mark":{"type":"rule","strokeWidth":1},"encoding":{"x":{"field":"date","type":"temporal"},"y":{"field":"low","type":"quantitative"},"y2":{"field":"high"},"color":{"condition":{"test":"datum.close>=datum.open","value":"#26a69a"},"value":"#ef5350"}}},
{"data":{"name":"candles"},"mark":{"type":"bar","size":3},"encoding":{"x":{"field":"date","type":"temporal"},"y":{"field":"open","type":"quantitative"},"y2":{"field":"close"},"color":{"condition":{"test":"datum.close>=datum.open","value":"#26a69a"},"value":"#ef5350"}}},
{"data":{"name":"levels"},"mark":{"type":"rule","strokeWidth":1.1},"encoding":{"y":{"field":"price","type":"quantitative"},"x":{"datum":{"year":2025,"month":"feb","date":25,"hours":16,"minutes":16},"type":"temporal"},"x2":{"datum":{"year":2026,"month":"jun","date":2,"hours":7}},"color":{"field":"zone","type":"nominal","scale":{"domain":["resistance","pivot","support"],"range":["#f23645","#089981","#4caf50"]},"legend":null}}},
{"data":{"name":"last"},"mark":{"type":"rule","strokeWidth":1,"strokeDash":[1,3],"color":"#ef5350"},"encoding":{"y":{"field":"price","type":"quantitative"},"x":{"datum":{"year":2025,"month":"feb","date":25,"hours":16,"minutes":16},"type":"temporal"},"x2":{"datum":{"year":2026,"month":"may","date":18,"hours":2}}}},
{"data":{"name":"signals"},"mark":{"type":"point","filled":true,"opacity":1,"size":55},"encoding":{"x":{"field":"date","type":"temporal"},"y":{"field":"price","type":"quantitative"},"shape":{"field":"side","type":"nominal","scale":{"domain":["buy","sell"],"range":["triangle-up","triangle-down"]},"legend":null},"fill":{"field":"side","type":"nominal","scale":{"domain":["buy","sell"],"range":["#1f8f7e","#d5303f"]},"legend":null}}},
{"data":{"name":"drawings"},"transform":[{"filter":"datum.kind=='black'"}],"mark":{"type":"line","color":"#000000","strokeWidth":2,"strokeCap":"round"},"encoding":{"x":{"field":"date","type":"temporal"},"y":{"field":"price","type":"quantitative"},"detail":{"field":"line"}}},
{"data":{"name":"drawings"},"transform":[{"filter":"datum.kind=='thin'"}],"mark":{"type":"line","color":"#000000","strokeWidth":1.2},"encoding":{"x":{"field":"date","type":"temporal"},"y":{"field":"price","type":"quantitative"},"detail":{"field":"line"}}},
{"data":{"name":"drawings"},"transform":[{"filter":"datum.kind=='blue'"}],"mark":{"type":"line","color":"#2f66f0","strokeWidth":2,"strokeCap":"round"},"encoding":{"x":{"field":"date","type":"temporal"},"y":{"field":"price","type":"quantitative"},"detail":{"field":"line"}}},
{"data":{"name":"drawings"},"transform":[{"filter":"datum.kind=='dash'"}],"mark":{"type":"line","color":"#2f66f0","strokeWidth":1,"strokeDash":[6,6]},"encoding":{"x":{"field":"date","type":"temporal"},"y":{"field":"price","type":"quantitative"},"detail":{"field":"line"}}},
{"data":{"name":"one"},"mark":{"type":"rect","color":"white"},"encoding":{"x":{"datum":{"year":2026,"month":"jun","date":2,"hours":9},"type":"temporal"},"x2":{"datum":{"year":2026,"month":"jun","date":22,"hours":12}},"y":{"datum":69340},"y2":{"datum":67150}}},
{"data":{"name":"one"},"mark":{"type":"rect","fill":"white","stroke":"#e0e3eb","cornerRadius":4},"encoding":{"x":{"datum":{"year":2026,"month":"jun","date":3,"hours":9,"minutes":36},"type":"temporal"},"x2":{"datum":{"year":2026,"month":"jun","date":21,"hours":21}},"y":{"datum":132211},"y2":{"datum":130075}}},
{"data":{"name":"one"},"mark":{"type":"text","align":"left","baseline":"middle","fontSize":11.5},"encoding":{"x":{"datum":{"year":2026,"month":"jun","date":5,"hours":17},"type":"temporal"},"y":{"datum":131106},"text":{"value":"USDT"}}},
{"data":{"name":"levels"},"transform":[{"filter":"length(datum.label)==10"}],"mark":{"type":"rect","height":17,"cornerRadius":2},"encoding":{"x":{"datum":{"year":2026,"month":"jun","date":2,"hours":13},"type":"temporal"},"x2":{"datum":{"year":2026,"month":"jun","date":21,"hours":22}},"y":{"field":"price","type":"quantitative"},"color":{"field":"zone","type":"nominal","legend":null}}},
{"data":{"name":"levels"},"transform":[{"filter":"length(datum.label)==9"}],"mark":{"type":"rect","height":17,"cornerRadius":2},"encoding":{"x":{"datum":{"year":2026,"month":"jun","date":2,"hours":13},"type":"temporal"},"x2":{"datum":{"year":2026,"month":"jun","date":20,"hours":2}},"y":{"field":"price","type":"quantitative"},"color":{"field":"zone","type":"nominal","legend":null}}},
{"data":{"name":"levels"},"mark":{"type":"text","align":"left","baseline":"middle","color":"white","fontSize":11.5,"fontWeight":"bold"},"encoding":{"x":{"datum":{"year":2026,"month":"jun","date":5,"hours":17},"type":"temporal"},"y":{"field":"price","type":"quantitative"},"text":{"field":"label"}}},
{"data":{"name":"last"},"mark":{"type":"rect","height":31,"cornerRadius":2,"color":"#ef5350","yOffset":7},"encoding":{"x":{"datum":{"year":2026,"month":"jun","date":2,"hours":13},"type":"temporal"},"x2":{"datum":{"year":2026,"month":"jun","date":20,"hours":2}},"y":{"field":"price","type":"quantitative"}}},
{"data":{"name":"last"},"mark":{"type":"rect","height":17,"cornerRadius":2,"color":"#ef5350"},"encoding":{"x":{"datum":{"year":2026,"month":"may","date":18,"hours":2},"type":"temporal"},"x2":{"datum":{"year":2026,"month":"jun","date":2,"hours":7}},"y":{"field":"price","type":"quantitative"}}},
{"data":{"name":"last"},"mark":{"type":"text","align":"center","baseline":"middle","color":"white","fontSize":11.5},"encoding":{"x":{"datum":{"year":2026,"month":"may","date":25,"hours":16},"type":"temporal"},"y":{"field":"price","type":"quantitative"},"text":{"field":"symbol"}}},
{"data":{"name":"last"},"mark":{"type":"text","align":"left","baseline":"middle","color":"white","fontSize":11.5,"fontWeight":"bold"},"encoding":{"x":{"datum":{"year":2026,"month":"jun","date":5,"hours":17},"type":"temporal"},"y":{"field":"price","type":"quantitative"},"text":{"field":"label"}}},
{"data":{"name":"last"},"mark":{"type":"text","align":"left","baseline":"middle","color":"#fbd5d4","fontSize":11.5,"dy":14},"encoding":{"x":{"datum":{"year":2026,"month":"jun","date":5,"hours":17},"type":"temporal"},"y":{"field":"price","type":"quantitative"},"text":{"field":"timer"}}},
{"data":{"name":"one"},"mark":{"type":"text","align":"left","baseline":"middle","fontSize":11.9,"fontWeight":"bold"},"encoding":{"x":{"datum":{"year":2025,"month":"feb","date":27,"hours":20,"minutes":38},"type":"temporal"},"y":{"datum":131180},"text":{"value":"Bitcoin / TetherUS · 1D · Binance"}}},
{"data":{"name":"one"},"mark":{"type":"text","align":"left","baseline":"middle","fontSize":12.4},"encoding":{"x":{"datum":{"year":2025,"month":"feb","date":27,"hours":20,"minutes":38},"type":"temporal"},"y":{"datum":129767},"text":{"value":"Vol · BTC"}}},
{"data":{"name":"one"},"mark":{"type":"text","align":"left","baseline":"middle","fontSize":12.4},"encoding":{"x":{"datum":{"year":2025,"month":"feb","date":27,"hours":20,"minutes":38},"type":"temporal"},"y":{"datum":128354},"text":{"value":"EMA Ribbon (20, 25, 30, 35, 40, 45, 50, 55, close, 1)"}}},
{"data":{"name":"one"},"mark":{"type":"text","align":"left","baseline":"middle","fontSize":12,"fontWeight":"bold"},"encoding":{"x":{"datum":{"year":2025,"month":"feb","date":25,"hours":9,"minutes":53},"type":"temporal"},"y":{"datum":135146},"text":{"value":"njmanura"}}},
{"data":{"name":"one"},"mark":{"type":"text","align":"left","baseline":"middle","fontSize":12.2},"encoding":{"x":{"datum":{"year":2025,"month":"mar","date":13,"hours":4,"minutes":48},"type":"temporal"},"y":{"datum":135146},"text":{"value":"published on TradingView.com, December 10, 2025 20:58:10 EST"}}},
{"data":{"name":"one"},"mark":{"type":"text","align":"left","baseline":"middle","fontSize":12,"fontWeight":"bold"},"encoding":{"x":{"datum":{"year":2025,"month":"feb","date":25,"hours":9,"minutes":53},"type":"temporal"},"y":{"datum":133790},"text":{"value":"BINANCE:BTCUSDT, 1D"}}},
{"data":{"name":"one"},"mark":{"type":"text","align":"left","baseline":"middle","fontSize":12.2},"encoding":{"x":{"datum":{"year":2025,"month":"apr","date":2,"hours":19,"minutes":41},"type":"temporal"},"y":{"datum":133790},"text":{"value":"90,740.20"}}},
{"data":{"name":"one"},"mark":{"type":"point","shape":"triangle-down","filled":true,"opacity":1,"size":60,"color":"#f23645"},"encoding":{"x":{"datum":{"year":2025,"month":"apr","date":20,"hours":12},"type":"temporal"},"y":{"datum":133790}}},
{"data":{"name":"one"},"mark":{"type":"text","align":"left","baseline":"middle","fontSize":12.2},"encoding":{"x":{"datum":{"year":2025,"month":"apr","date":22,"hours":11,"minutes":30},"type":"temporal"},"y":{"datum":133790},"text":{"value":"−1,275.17 (−1.39%)"}}},
{"data":{"name":"one"},"mark":{"type":"text","align":"left","baseline":"middle","fontSize":12,"fontWeight":"bold"},"encoding":{"x":{"datum":{"year":2025,"month":"may","date":22,"hours":18,"minutes":40},"type":"temporal"},"y":{"datum":133790},"text":{"value":"O:"}}},
{"data":{"name":"one"},"mark":{"type":"text","align":"left","baseline":"middle","fontSize":12.2,"color":"#ef5350"},"encoding":{"x":{"datum":{"year":2025,"month":"may","date":26,"hours":12},"type":"temporal"},"y":{"datum":133790},"text":{"value":"92,015.38"}}},
{"data":{"name":"one"},"mark":{"type":"text","align":"left","baseline":"middle","fontSize":12,"fontWeight":"bold"},"encoding":{"x":{"datum":{"year":2025,"month":"jun","date":11,"hours":21},"type":"temporal"},"y":{"datum":133790},"text":{"value":"H:"}}},
{"data":{"name":"one"},"mark":{"type":"text","align":"left","baseline":"middle","fontSize":12.2,"color":"#ef5350"},"encoding":{"x":{"datum":{"year":2025,"month":"jun","date":15,"hours":10,"minutes":20},"type":"temporal"},"y":{"datum":133790},"text":{"value":"92,080.32"}}},
{"data":{"name":"one"},"mark":{"type":"text","align":"left","baseline":"middle","fontSize":12,"fontWeight":"bold"},"encoding":{"x":{"datum":{"year":2025,"month":"jul","date":1,"hours":12},"type":"temporal"},"y":{"datum":133790},"text":{"value":"L:"}}},
{"data":{"name":"one"},"mark":{"type":"text","align":"left","baseline":"middle","fontSize":12.2,"color":"#ef5350"},"encoding":{"x":{"datum":{"year":2025,"month":"jul","date":4,"hours":7},"type":"temporal"},"y":{"datum":133790},"text":{"value":"90,658.24"}}},
{"data":{"name":"one"},"mark":{"type":"text","align":"left","baseline":"middle","fontSize":12,"fontWeight":"bold"},"encoding":{"x":{"datum":{"year":2025,"month":"jul","date":20,"hours":15},"type":"temporal"},"y":{"datum":133790},"text":{"value":"C:"}}},
{"data":{"name":"one"},"mark":{"type":"text","align":"left","baseline":"middle","fontSize":12.2,"color":"#ef5350"},"encoding":{"x":{"datum":{"year":2025,"month":"jul","date":23,"hours":17},"type":"temporal"},"y":{"datum":133790},"text":{"value":"90,740.21"}}},
{"data":{"name":"one"},"mark":{"type":"point","filled":true,"opacity":1,"size":529,"color":"#131722","shape":"M-1 -0.48 H-0.22 V0.48 H-0.58 V-0.14 H-1 Z M0.15 -0.3 A0.16 0.16 0 1 1 -0.15 -0.3 A0.16 0.16 0 1 1 0.15 -0.3 Z M0.45 -0.48 H1 L0.55 0.48 H0.02 Z"},"encoding":{"x":{"datum":{"year":2025,"month":"feb","date":28,"hours":11},"type":"temporal"},"y":{"datum":65520}}},
{"data":{"name":"one"},"mark":{"type":"text","align":"left","baseline":"middle","fontSize":15.2,"fontWeight":600,"font":"Inter","color":"#131722"},"encoding":{"x":{"datum":{"year":2025,"month":"mar","date":4,"hours":20},"type":"temporal"},"y":{"datum":65511},"text":{"value":"TradingView"}}}
]}
]}
